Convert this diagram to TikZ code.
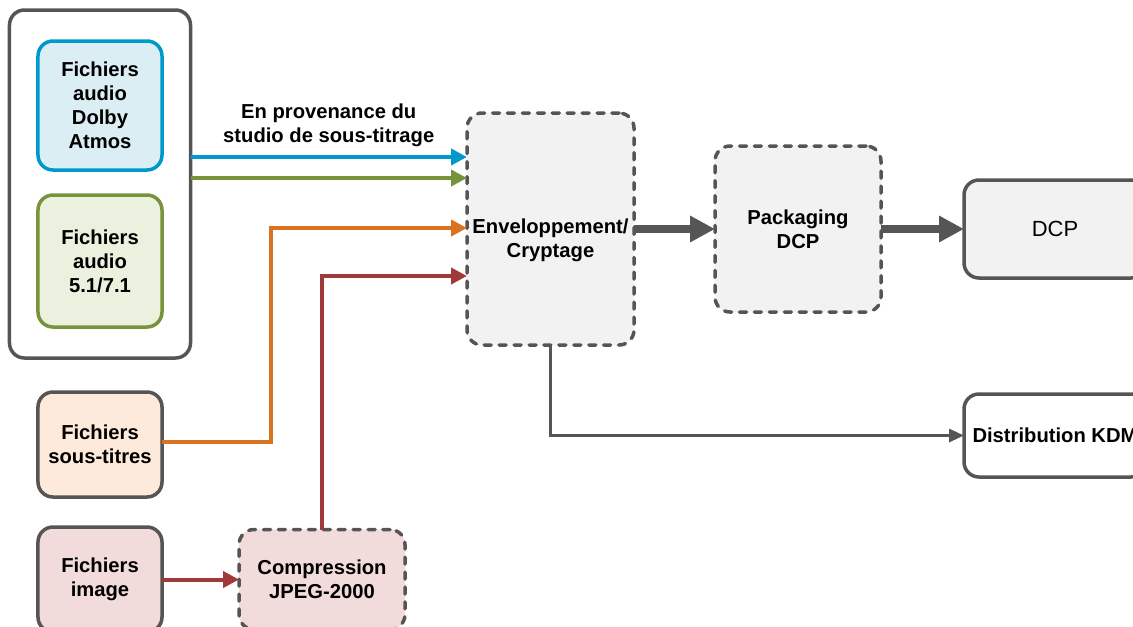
\documentclass[tikz,border=0pt]{standalone}
\usepackage{fontspec}
\setmainfont{Liberation Sans}
\usetikzlibrary{positioning,fit,arrows.meta}
\newcommand{\DcpPx}{0.02}
\definecolor{boxgray}{HTML}{555555}
\definecolor{panelgray}{HTML}{F2F2F2}
\definecolor{atmosblue}{HTML}{0099CC}
\definecolor{atmosfill}{HTML}{DAEEF3}
\definecolor{surroundgreen}{HTML}{77933C}
\definecolor{surroundfill}{HTML}{EBF1DE}
\definecolor{subsorange}{HTML}{D9731F}
\definecolor{subsfill}{HTML}{FDEADA}
\definecolor{imagered}{HTML}{A0393A}
\definecolor{imagefill}{HTML}{F2DCDB}
\tikzset{
	boldtext/.style={font=\bfseries\fontsize{11.5}{13.6}\selectfont},
	filebox/.style={draw=boxgray, line width=0.07cm, rounded corners=0.3cm, align=center, inner sep=0pt, outer sep=0pt, boldtext},
	stagebox/.style={filebox, dash pattern=on 4pt off 4.5pt, line cap=round},
	feed/.style={line width=0.08cm, -{Triangle[length=0.32cm, width=0.32cm]}},
	bigfeed/.style={draw=boxgray, line width=0.16cm, -{Triangle[length=0.5cm, width=0.5cm]}},
}

\begin{document}
\begin{tikzpicture}[x=\DcpPx cm, y=-\DcpPx cm]
	\useasboundingbox (0,0) rectangle (1133,626);
	\node[filebox, draw=atmosblue, fill=atmosfill, minimum width=\DcpPx*124 cm, minimum height=\DcpPx*129 cm] (atmos) at (100,105.5) {Fichiers\\audio\\Dolby\\Atmos};
	\node[filebox, draw=surroundgreen, fill=surroundfill, minimum width=\DcpPx*124 cm, minimum height=\DcpPx*132 cm, below=\DcpPx*25 cm of atmos] (surround) {Fichiers\\audio\\5.1/7.1};
	\node[filebox, fit=(atmos)(surround), inner xsep=\DcpPx*28.5 cm, inner ysep=\DcpPx*31 cm] (sources) {};
	\node[filebox, fill=subsfill, minimum width=\DcpPx*124 cm, minimum height=\DcpPx*105 cm, below=\DcpPx*34 cm of sources] (subs) {Fichiers\\sous-titres};
	\node[filebox, fill=imagefill, minimum width=\DcpPx*124 cm, minimum height=\DcpPx*105 cm, below=\DcpPx*30 cm of subs] (image) {Fichiers\\image};
	\node[stagebox, fill=imagefill, minimum width=\DcpPx*166 cm, minimum height=\DcpPx*100 cm, right=\DcpPx*77 cm of image] (jpeg) {Compression\\JPEG-2000};
	\node[stagebox, fill=panelgray, minimum width=\DcpPx*167 cm, minimum height=\DcpPx*232 cm, label={[name=wraptext, align=center, boldtext, yshift=-\DcpPx*11 cm]center:Enveloppement/\\Cryptage}] (wrap) at (550.5,229) {};
	\node[stagebox, fill=panelgray, minimum width=\DcpPx*166 cm, minimum height=\DcpPx*166 cm, right=\DcpPx*81 cm of wrap] (pack) {Packaging\\DCP};
	\node[filebox, fill=panelgray, minimum width=\DcpPx*182 cm, minimum height=\DcpPx*98 cm, right=\DcpPx*83 cm of pack, font=\fontsize{12.5}{15}\selectfont] (dcp) {DCP};
	\node[filebox, fill=white, minimum width=\DcpPx*182 cm, minimum height=\DcpPx*83 cm, below=\DcpPx*116 cm of dcp] (kdm) {Distribution KDM};
	\coordinate (atmosin) at ([yshift=\DcpPx*72 cm]wrap.west);
	\coordinate (surroundin) at ([yshift=\DcpPx*51 cm]wrap.west);
	\coordinate (subsin) at ([yshift=\DcpPx*1 cm]wrap.west);
	\coordinate (imagein) at ([yshift=-\DcpPx*47 cm]wrap.west);
	\draw[feed, atmosblue] (sources.east |- atmosin) -- (atmosin) node[midway, above=\DcpPx*8 cm, inner sep=0pt, align=center, text=black, boldtext] (origin) {En provenance du\\studio de sous-titrage};
	\draw[feed, surroundgreen] (sources.east |- surroundin) -- (surroundin);
	\draw[feed, subsorange] ([yshift=\DcpPx*3 cm]subs.east) -- ++(109,0) |- (subsin);
	\draw[feed, imagered] (jpeg.north) |- (imagein);
	\draw[feed, imagered] (image) -- (jpeg);
	\draw[bigfeed] (wrap) -- (pack);
	\draw[bigfeed] (pack) -- (dcp);
	\draw[draw=boxgray, line width=0.06cm, -{Triangle[length=0.3cm, width=0.26cm]}] (wrap.south) |- (kdm);
\end{tikzpicture}
\end{document}
